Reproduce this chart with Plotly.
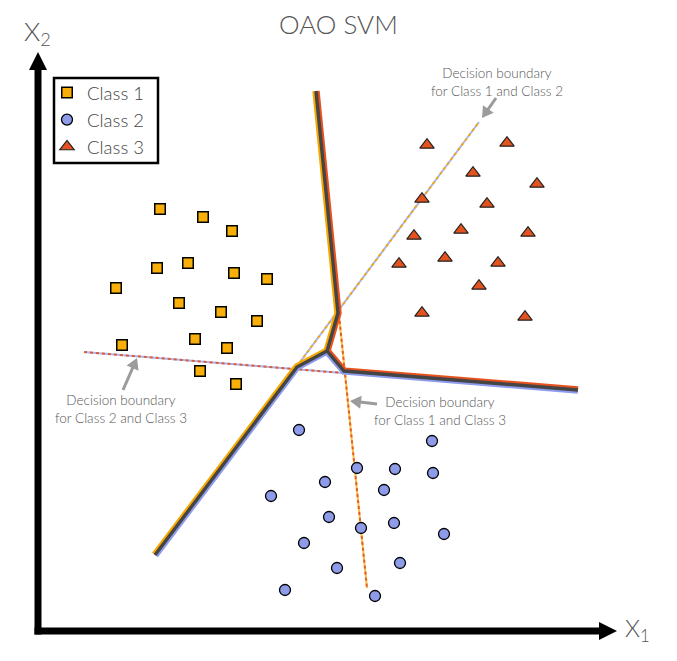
import numpy as np
import plotly.graph_objects as go

# ---------------- data (1 unit = 1 px, origin at the axes corner) ----------------
class1_x = [122, 165, 194, 119, 150, 196, 229, 78, 141, 183, 219, 84, 157, 189, 162, 198]
class1_y = [422, 414, 400, 363, 368, 358, 352, 343, 328, 319, 310, 286, 292, 283, 260, 247]

class2_x = [261, 394, 319, 357, 395, 287, 346, 233, 291, 356, 323, 406, 266, 362, 299, 247, 337]
class2_y = [201, 190, 163, 162, 158, 149, 141, 135, 114, 108, 103, 97, 88, 68, 63, 41, 35]

class3_x = [389, 469, 435, 499, 384, 449, 376, 423, 490, 361, 407, 460, 441, 384, 487]
class3_y = [486, 488, 458, 447, 432, 427, 395, 401, 398, 367, 373, 368, 345, 318, 314]

# composite OAO decision boundary (three polylines meeting in the middle)
oao_top_x = [278, 300, 289]      # Class 1 | Class 3
oao_top_y = [540, 318, 280]
oao_left_x = [117, 259, 289]     # Class 1 | Class 2
oao_left_y = [76, 264, 280]
oao_right_x = [289, 306, 540]    # Class 3 | Class 2
oao_right_y = [280, 260, 241]

# pairwise decision boundaries
b12_x = [262, 441]
b12_y = [269, 509]
b23_x = [46, 305]
b23_y = [279, 258]
b13_x = [301, 329]
b13_y = [316, 43]

label_texts = ["Decision boundary<br>for Class 1 and Class 2",
               "Decision boundary<br>for Class 2 and Class 3",
               "Decision boundary<br>for Class 1 and Class 3"]
label_cx = [459, 83, 402]
label_cy = [549, 222, 220]
arrow_tail = [(458, 533), (85, 241), (339, 227)]
arrow_tip = [(444, 513), (99, 273), (312, 230)]

# ---------------- styles ----------------
C_ORANGE = "#F7A800"
C_RED = "#E8521E"
C_BLUE = "#8E9CEE"
C_DARK = "#454545"
C_ARROW = "#9b9b9b"
FONT = "Lato"
TXT = "#555555"

# the page body has an 8px margin: the figure fills the rest of the window
W, H = 669, 653

fig = go.Figure()


def offset_poly(xs, ys, d):
    pts = np.array(list(zip(xs, ys)), dtype=float)
    n = len(pts)
    normals = []
    for i in range(n - 1):
        v = pts[i + 1] - pts[i]
        v = v / np.linalg.norm(v)
        normals.append(np.array([-v[1], v[0]]))
    out = []
    for i in range(n):
        if i == 0:
            nn = normals[0]
        elif i == n - 1:
            nn = normals[-1]
        else:
            m = normals[i - 1] + normals[i]
            m = m / np.linalg.norm(m)
            nn = m / np.dot(m, normals[i])
        out.append(pts[i] + d * nn)
    out = np.array(out)
    return out[:, 0], out[:, 1]


def line(xs, ys, color, width, dash="solid", opacity=1.0):
    fig.add_trace(go.Scatter(x=list(xs), y=list(ys), mode="lines",
                             line=dict(color=color, width=width, dash=dash),
                             opacity=opacity, showlegend=False, hoverinfo="skip"))


# pairwise dashed boundaries (two-colour dotted)
for xs, ys, c1, c2 in [(b12_x, b12_y, C_BLUE, C_ORANGE),
                       (b23_x, b23_y, C_BLUE, C_RED),
                       (b13_x, b13_y, C_ORANGE, C_RED)]:
    line(xs, ys, c1, 2, opacity=0.75)
    line(xs, ys, c2, 2, dash="3px,3px", opacity=0.9)

# composite boundary: coloured edges + dark core
for xs, ys, cpos, cneg in [(oao_top_x, oao_top_y, C_RED, C_ORANGE),
                           (oao_left_x, oao_left_y, C_ORANGE, C_BLUE),
                           (oao_right_x, oao_right_y, C_RED, C_BLUE)]:
    px, py = offset_poly(xs, ys, 2.2)
    line(px, py, cpos, 3)
    nx, ny = offset_poly(xs, ys, -2.2)
    line(nx, ny, cneg, 3)
for xs, ys in [(oao_top_x, oao_top_y), (oao_left_x, oao_left_y), (oao_right_x, oao_right_y)]:
    line(xs, ys, C_DARK, 3.4)

# classes
fig.add_trace(go.Scatter(x=class1_x, y=class1_y, mode="markers", name="Class 1",
                         marker=dict(symbol="square", size=10.5, color="#F9AF0A",
                                     line=dict(color="black", width=1.5))))
fig.add_trace(go.Scatter(x=class2_x, y=class2_y, mode="markers", name="Class 2",
                         marker=dict(symbol="circle", size=11, color="#8D9BE8",
                                     line=dict(color="black", width=1.3))))
fig.add_trace(go.Scatter(x=class3_x, y=class3_y, mode="markers", name="Class 3",
                         marker=dict(symbol="triangle-up", size=12.5, color="#E4531E",
                                     line=dict(color="#222222", width=1.2))))

annotations = []
for t, cx, cy in zip(label_texts, label_cx, label_cy):
    annotations.append(dict(x=cx, y=cy, text=t, showarrow=False,
                            xanchor="center", yanchor="middle", align="center",
                            font=dict(family=FONT, size=13.5, color=TXT, weight=300)))

# axis labels
annotations.append(dict(x=-1, y=599, text="X<sub>2</sub>", showarrow=False,
                        xanchor="center", yanchor="middle",
                        font=dict(family=FONT, size=26, color=TXT, weight=300)))
annotations.append(dict(x=585, y=2, text="X<sub>1</sub>", showarrow=False,
                        xanchor="left", yanchor="middle",
                        font=dict(family=FONT, size=24, color=TXT, weight=300)))
annotations.append(dict(x=330 / W, y=1 - 16 / H, xref="paper", yref="paper", text="OAO SVM",
                        showarrow=False, xanchor="center", yanchor="middle",
                        font=dict(family=FONT, size=26, color=TXT, weight=300)))

shapes = [
    dict(type="line", x0=0, y0=-3.5, x1=0, y1=563, line=dict(color="black", width=7)),
    dict(type="path", path="M -9,561 L 9,561 L 0,579 Z", fillcolor="black",
         line=dict(color="black", width=0)),
    dict(type="line", x0=-3.5, y0=0, x1=563, y1=0, line=dict(color="black", width=7)),
    dict(type="path", path="M 561,-9 L 561,9 L 579,0 Z", fillcolor="black",
         line=dict(color="black", width=0)),
    # legend frame
    dict(type="rect", x0=16, y0=468, x1=120, y1=553, fillcolor="white",
         line=dict(color="black", width=2.5), layer="below"),
]

# grey pointer arrows (shaft + head)
HEAD_L, HEAD_W = 11.0, 6.5
for (tx, ty), (hx, hy) in zip(arrow_tail, arrow_tip):
    v = np.array([hx - tx, hy - ty], dtype=float)
    v /= np.linalg.norm(v)
    nrm = np.array([-v[1], v[0]])
    base = np.array([hx, hy]) - HEAD_L * v
    p1 = base + HEAD_W * nrm
    p2 = base - HEAD_W * nrm
    shapes.append(dict(type="line", x0=tx, y0=ty, x1=base[0] + v[0], y1=base[1] + v[1],
                       line=dict(color=C_ARROW, width=3)))
    shapes.append(dict(type="path",
                       path=f"M {hx},{hy} L {p1[0]:.2f},{p1[1]:.2f} L {p2[0]:.2f},{p2[1]:.2f} Z",
                       fillcolor=C_ARROW, line=dict(color=C_ARROW, width=0)))

fig.update_layout(
    width=W, height=H,
    margin=dict(l=0, r=0, t=0, b=0),
    paper_bgcolor="white", plot_bgcolor="white",
    xaxis=dict(range=[-30, 639], visible=False, showgrid=False, zeroline=False, fixedrange=True),
    yaxis=dict(range=[-30, 623], visible=False, showgrid=False, zeroline=False, fixedrange=True),
    legend=dict(x=(47 - 8) / W, y=1 - (74 - 8) / H, xanchor="left", yanchor="top",
                borderwidth=0, bgcolor="rgba(0,0,0,0)",
                font=dict(family=FONT, size=18.5, color="#444444", weight=300),
                itemwidth=30, tracegroupgap=0),
    annotations=annotations,
    shapes=shapes,
    showlegend=True,
)

fig.write_html("out.html")
